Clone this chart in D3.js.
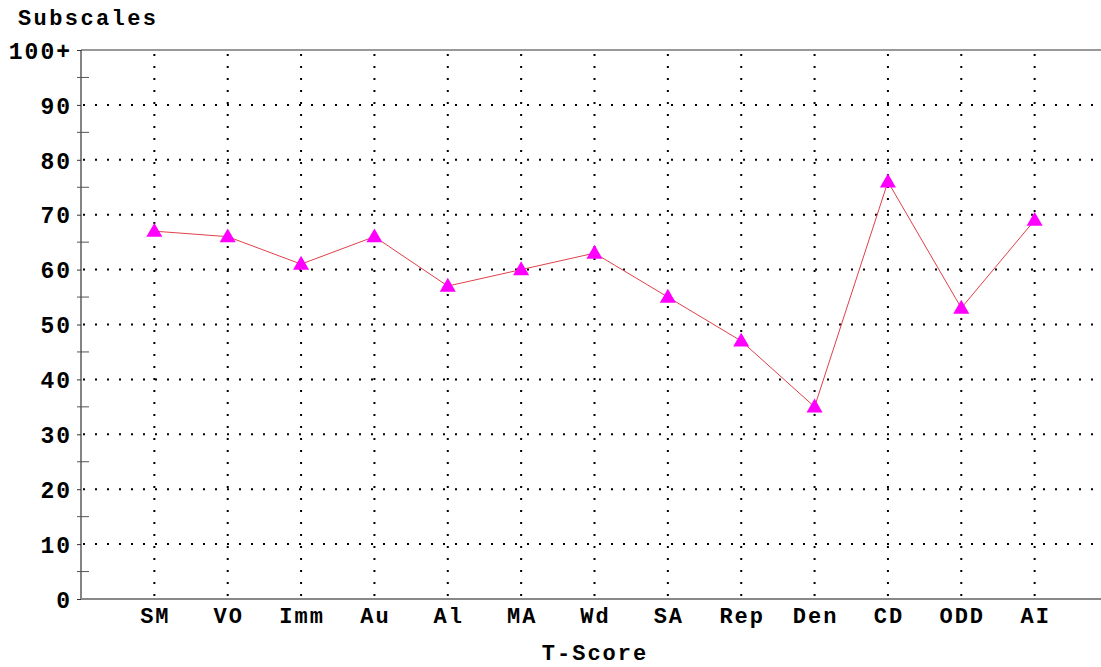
<!DOCTYPE html>
<html>
<head>
<meta charset="utf-8">
<script src="https://cdn.jsdelivr.net/npm/d3@7"></script>
<style>
  html, body { margin: 0; padding: 0; background: #fff; }
  svg { display: block; font-family: "Courier New", "Liberation Mono", monospace; font-weight: bold; }
</style>
</head>
<body>
<div id="chart"></div>
<script>
// --- data ---
const subscales = ["SM", "VO", "Imm", "Au", "Al", "MA", "Wd", "SA", "Rep", "Den", "CD", "ODD", "AI"];
const tScores = [67, 66, 61, 66, 57, 60, 63, 55, 47, 35, 76, 53, 69];
const yTicks = [0, 10, 20, 30, 40, 50, 60, 70, 80, 90, 100];
const yTickLabels = ["0", "10", "20", "30", "40", "50", "60", "70", "80", "90", "100+"];
const yMinorTicks = [5, 15, 25, 35, 45, 55, 65, 75, 85, 95];

const W = 1101, H = 667;
const plotLeft = 81, plotRight = 1108, plotTop = 50, plotBottom = 599;

const svg = d3.select("#chart").append("svg")
  .attr("width", W).attr("height", H);

const x = d3.scalePoint().domain(subscales).range([plotLeft, plotRight]).padding(1);
const y = d3.scaleLinear().domain([0, 100]).range([plotBottom, plotTop]);

// horizontal dotted grid
svg.append("g").selectAll("line")
  .data(yTicks.filter(d => d > 0 && d < 100))
  .join("line")
  .attr("x1", plotLeft + 2).attr("x2", W)
  .attr("y1", d => y(d)).attr("y2", d => y(d))
  .attr("stroke", "#000").attr("stroke-width", 2)
  .attr("stroke-dasharray", "2,10");

// vertical dotted grid
svg.append("g").selectAll("line")
  .data(subscales)
  .join("line")
  .attr("x1", d => x(d)).attr("x2", d => x(d))
  .attr("y1", plotTop + 4).attr("y2", plotBottom)
  .attr("stroke", "#000").attr("stroke-width", 2)
  .attr("stroke-dasharray", "2,10");

// frame: top line, left axis, bottom axis
svg.append("line").attr("x1", plotLeft).attr("x2", W).attr("y1", plotTop).attr("y2", plotTop)
  .attr("stroke", "#333").attr("stroke-width", 1);
svg.append("line").attr("x1", plotLeft).attr("x2", plotLeft).attr("y1", plotTop).attr("y2", plotBottom)
  .attr("stroke", "#333").attr("stroke-width", 1.2);
svg.append("line").attr("x1", plotLeft).attr("x2", W).attr("y1", plotBottom).attr("y2", plotBottom)
  .attr("stroke", "#888").attr("stroke-width", 2);

// y axis ticks
const yAxis = d3.axisLeft(y).tickValues(yTicks).tickSize(4)
  .tickFormat((d, i) => yTickLabels[i]);
const ya = svg.append("g").attr("transform", `translate(${plotLeft},0)`).call(yAxis);
ya.select(".domain").remove();
ya.selectAll(".tick line").attr("stroke", "#333");
ya.selectAll(".tick text")
  .attr("x", -9)
  .attr("dy", "0.36em")
  .style("font-family", "'Courier New', 'Liberation Mono', monospace")
  .style("font-weight", "bold")
  .style("font-size", "23px")
  .style("letter-spacing", "2px")
  .attr("fill", "#000");

svg.append("g").selectAll("line")
  .data(yMinorTicks)
  .join("line")
  .attr("x1", plotLeft - 4).attr("x2", plotLeft + 8)
  .attr("y1", d => y(d)).attr("y2", d => y(d))
  .attr("stroke", "#555").attr("stroke-width", 1);

// x labels
svg.append("g").selectAll("text")
  .data(subscales)
  .join("text")
  .attr("x", d => x(d) + 1).attr("y", 623)
  .attr("text-anchor", "middle")
  .style("font-size", "22px")
  .style("letter-spacing", "2px")
  .text(d => d);

// titles
svg.append("text").attr("x", 18).attr("y", 25)
  .style("font-size", "22px").style("letter-spacing", "2.4px").text("Subscales");
svg.append("text").attr("x", 595).attr("y", 660)
  .attr("text-anchor", "middle")
  .style("font-size", "22px").style("letter-spacing", "2px").text("T-Score");

// series line
const line = d3.line().x((d, i) => x(subscales[i])).y(d => y(d));
svg.append("path").datum(tScores)
  .attr("fill", "none").attr("stroke", "#e0404a").attr("stroke-width", 1)
  .attr("d", line);

// triangle markers
const tri = d3.symbol().type(d3.symbolTriangle).size(112);
svg.append("g").selectAll("path")
  .data(tScores)
  .join("path")
  .attr("d", tri)
  .attr("transform", (d, i) => `translate(${x(subscales[i])},${y(d) + 1})`)
  .attr("fill", "#ff00ff");
</script>
</body>
</html>
